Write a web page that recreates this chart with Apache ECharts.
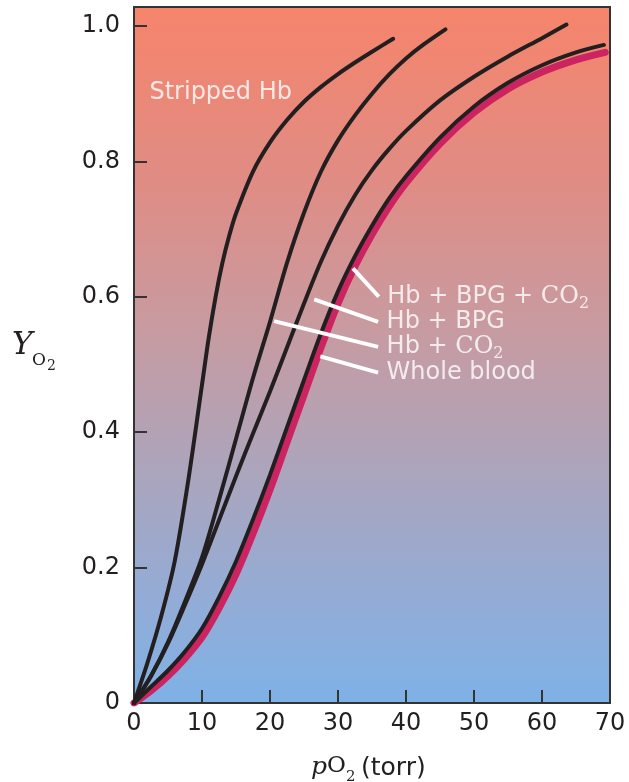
<!DOCTYPE html>
<html>
<head>
<meta charset="utf-8">
<script src="https://cdn.jsdelivr.net/npm/echarts@6/dist/echarts.min.js"></script>
<style>
html,body{margin:0;padding:0;background:#fff;}
#chart{width:629px;height:782px;}
</style>
</head>
<body>
<div id="chart"></div>
<script>
// ---- data (pO2 in torr, fractional saturation Y) ----
const xTicks = [0, 10, 20, 30, 40, 50, 60, 70];
const yTicks = [0, 0.2, 0.4, 0.6, 0.8, 1.0];

const strippedHb = [[0,0],[2,0.06],[4,0.128],[6,0.21],[8,0.33],[10,0.47],[11,0.54],[12,0.6],[13,0.65],[14,0.69],[15,0.723],[17.5,0.785],[20,0.828],[22.5,0.861],[25,0.888],[27.5,0.91],[30,0.929],[32.5,0.946],[35,0.962],[38.1,0.981]];
const hbCO2 = [[0,0],[2.5,0.04],[5,0.09],[7.5,0.15],[10,0.215],[12.5,0.3],[15,0.39],[17.5,0.48],[20,0.563],[22.5,0.65],[25,0.724],[27.5,0.785],[30,0.831],[32.5,0.868],[35,0.9],[37.5,0.928],[40,0.952],[42.5,0.972],[45.8,0.995]];
const hbBPG = [[0,0],[2.5,0.04],[5,0.088],[7.5,0.145],[10,0.205],[12.5,0.27],[15,0.335],[17.5,0.398],[20,0.46],[22.5,0.525],[25,0.59],[27.5,0.652],[30,0.705],[32.5,0.75],[35,0.787],[37.5,0.818],[40,0.845],[45,0.89],[50,0.925],[55,0.955],[60,0.982],[63.6,1.002]];
const hbBPGCO2 = [[0,0],[2.5,0.024],[5,0.048],[7.5,0.076],[10,0.11],[12.5,0.156],[15,0.209],[17.5,0.271],[20,0.337],[22.5,0.407],[25,0.477],[27.5,0.546],[30,0.608],[32.5,0.66],[35,0.705],[37.5,0.745],[40,0.778],[45,0.835],[50,0.881],[55,0.916],[60,0.942],[65,0.961],[69.1,0.972]];
const wholeBlood = [[0,0],[2.5,0.018],[5,0.04],[7.5,0.066],[10,0.097],[12.5,0.14],[15,0.19],[17.5,0.25],[20,0.315],[22.5,0.385],[25,0.455],[27.5,0.525],[30,0.59],[32.5,0.645],[35,0.692],[37.5,0.733],[40,0.768],[45,0.826],[50,0.872],[55,0.907],[60,0.932],[65,0.95],[69.3,0.961]];

// annotation pointers: start point near curve, end point near label
const pointerNames = ['Hb + BPG + CO2', 'Hb + BPG', 'Hb + CO2', 'Whole blood'];
const pointerStart = [[32.2,0.642],[26.5,0.596],[20.6,0.564],[27.4,0.512]];
const pointerEnd = [[36.0,0.600],[35.9,0.563],[35.9,0.526],[35.9,0.488]];
const pointerRich = ['{a|Hb + BPG + }{c|CO}{s|2}', '{a|Hb + BPG}', '{a|Hb + }{c|CO}{s|2}', '{a|Whole blood}'];
const strippedLabelPos = [2.2, 0.901];

// ---- chart ----
const chart = echarts.init(document.getElementById('chart'), null, {renderer: 'canvas'});
const SANS = 'DejaVu Sans';
const SERIF = 'DejaVu Serif';
const ink = '#231f20';

const richStyles = {
  a: {fontFamily: SANS, fontSize: 24, color: '#fff'},
  c: {fontFamily: SERIF, fontSize: 24, color: '#fff'},
  s: {fontFamily: SERIF, fontSize: 16, color: '#fff', verticalAlign: 'bottom', lineHeight: 30}
};

const curveSeries = (name, data, color, width) => ({
  name, type: 'line', data, smooth: 0.3,
  showSymbol: false, symbol: 'none', silent: true,
  lineStyle: {color, width, cap: 'round'}, z: 3
});

const series = [
  curveSeries('Whole blood', wholeBlood, '#cc2461', 7),
  curveSeries('Stripped Hb', strippedHb, ink, 4),
  curveSeries('Hb + CO2', hbCO2, ink, 4),
  curveSeries('Hb + BPG', hbBPG, ink, 4),
  curveSeries('Hb + BPG + CO2', hbBPGCO2, ink, 4)
];

pointerNames.forEach((n, i) => {
  series.push({
    name: n + ' pointer', type: 'line', data: [pointerStart[i], pointerEnd[i]],
    showSymbol: false, symbol: 'none', silent: true, z: 4,
    lineStyle: {color: '#ffffff', width: 4, cap: 'butt'}
  });
});

series.push({
  name: 'labels', type: 'scatter', silent: true, z: 5,
  symbolSize: 1, itemStyle: {color: 'rgba(0,0,0,0)'},
  data: pointerEnd.map((p, i) => ({
    value: p,
    label: {show: true, position: 'right', distance: 8, formatter: pointerRich[i], rich: richStyles}
  })).concat([{
    value: strippedLabelPos,
    label: {show: true, position: 'right', distance: 0, formatter: 'Stripped Hb',
      fontFamily: SANS, fontSize: 24, color: '#fff'}
  }])
});

const option = {
  animation: false,
  backgroundColor: '#ffffff',
  grid: {
    left: 134, right: 19, top: 7, bottom: 79,
    show: true, borderColor: '#333', borderWidth: 2,
    backgroundColor: new echarts.graphic.LinearGradient(0, 0, 0, 1, [
      {offset: 0, color: '#f6846b'},
      {offset: 0.25, color: '#e08c84'},
      {offset: 0.45, color: '#c99a9f'},
      {offset: 0.65, color: '#aea4ba'},
      {offset: 0.85, color: '#93acd6'},
      {offset: 1, color: '#7eb1e6'}
    ])
  },
  xAxis: {
    type: 'value', min: xTicks[0], max: xTicks[xTicks.length - 1], interval: 10,
    axisLine: {show: false},
    splitLine: {show: false},
    axisTick: {show: true, inside: true, length: 13, lineStyle: {color: '#333', width: 2}},
    axisLabel: {margin: 9, fontFamily: SANS, fontSize: 24, color: ink,
      formatter: v => xTicks.includes(v) ? String(v) : ''}
  },
  yAxis: {
    type: 'value', min: 0, max: 1.028, interval: 0.2,
    axisLine: {show: false},
    splitLine: {show: false},
    axisTick: {show: true, inside: true, length: 13, lineStyle: {color: '#333', width: 2}},
    axisLabel: {margin: 14, fontFamily: SANS, fontSize: 24, color: ink, showMaxLabel: false,
      formatter: v => {
        const t = yTicks.find(k => Math.abs(k - v) < 1e-6);
        if (t === undefined) return '';
        return t === 0 ? '0' : t.toFixed(1);
      }}
  },
  graphic: [
    {type: 'text', left: 12, top: 330, silent: true,
      style: {text: 'Y', font: 'italic 31px "DejaVu Serif"', fill: ink}},
    {type: 'text', left: 32, top: 352, silent: true,
      style: {text: 'O', font: '17px "DejaVu Serif"', fill: ink}},
    {type: 'text', left: 47, top: 359, silent: true,
      style: {text: '2', font: '14px "DejaVu Serif"', fill: ink}},
    {type: 'text', left: 311, top: 755, silent: true,
      style: {text: 'p', font: 'italic 25px "DejaVu Serif"', fill: ink}},
    {type: 'text', left: 327, top: 755, silent: true,
      style: {text: 'O', font: '23px "DejaVu Serif"', fill: ink}},
    {type: 'text', left: 346, top: 770, silent: true,
      style: {text: '2', font: '15px "DejaVu Serif"', fill: ink}},
    {type: 'text', left: 361, top: 756, silent: true,
      style: {text: '(torr)', font: '25px "DejaVu Sans"', fill: ink}}
  ],
  series
};
chart.setOption(option);
</script>
</body>
</html>
